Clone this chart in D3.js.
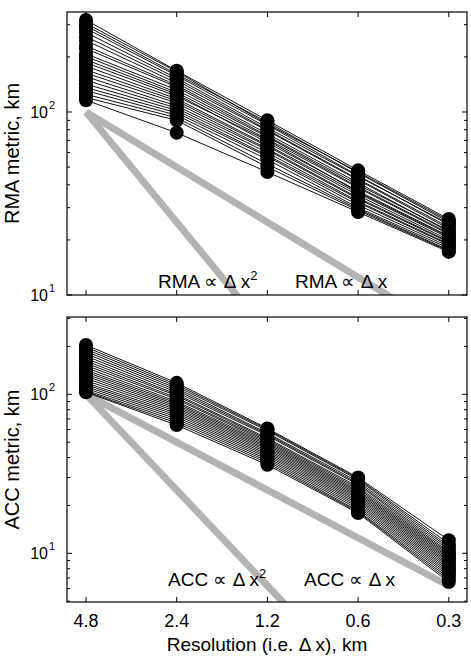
<!DOCTYPE html>
<html><head><meta charset="utf-8">
<script src="https://cdn.jsdelivr.net/npm/d3@7"></script>
<style>body{margin:0;background:#fff}svg{display:block}text{font-family:"Liberation Sans",Arial,sans-serif;fill:#000}</style>
</head><body><svg id="c" width="471" height="659"></svg>
<script>
const resolutions = [4.8, 2.4, 1.2, 0.6, 0.3];
const xTickLabels = ["4.8", "2.4", "1.2", "0.6", "0.3"];
const yTickValues = [10, 100];
// RMA metric (km) per run at each resolution
const rmaSeries = [
  [318,168,90,48,26],
  [305,166,86,47,25.5],
  [296,161,88,46.5,25],
  [286,158,85,45,24.2],
  [272,153,82,44.5,24.5],
  [258,149,80,43,23.5],
  [246,144,79,42.5,23],
  [230,140,76,41,22.2],
  [222,137,74,40,22.5],
  [208,132,73,39,21.8],
  [201,128,71,38.5,21.5],
  [193,125,68,37,21],
  [186,122,70,36.5,20.8],
  [178,118,66,36,20.5],
  [170,115,65,35,20],
  [163,112,63,34,19.6],
  [156,108,62,33.5,19.4],
  [149,105,60,32.5,19],
  [142,102,58,32,18.8],
  [136,99,57,31,18.4],
  [131,96,55,30,18],
  [125,93,52,29.5,17.6],
  [120,90,50,29,17.4],
  [116,77,47,28.4,17.2]
];
// ACC metric (km) per run at each resolution
const accSeries = [
  [204,118,61,30,12.1],
  [198,115,60,29.5,11.5],
  [192,112,59,29,11.1],
  [186,109,57,28.2,10.8],
  [180,106,56,27.5,10.5],
  [174,103,55,27,10.2],
  [168,100,53,26.2,10],
  [162,98,52,25.6,9.8],
  [157,95,51,25,9.6],
  [152,93,50,24.5,9.4],
  [147,90,49,24,9.2],
  [142,88,48,23.5,9],
  [138,86,47,23,8.8],
  [134,84,46,22.5,8.6],
  [130,82,45,22,8.4],
  [126,80,44,21.5,8.2],
  [122,78,43,21,8],
  [118,76,42,20.5,7.8],
  [115,74,41,20,7.6],
  [112,72,40,19.5,7.4],
  [109,70,39,19,7.2],
  [106,68,38,18.5,7],
  [104,66,37,18.2,6.8],
  [103,64,36,17.9,6.6]
];
// Reference slopes, anchored at 100 km for 4.8 km resolution
const guideRes = [4.8, 0.3];
const guideSquare = [100, 0.390625];
const guideLinear = [100, 6.25];

const svg = d3.select("#c");
const L = 67, R = 467;
const x = d3.scaleLog().domain([5.55, 0.261]).range([L, R]);

const panels = [
  {id:"top", series: rmaSeries, top:12, bottom:295, ydom:[10, 351.9], name:"RMA",
   ylabel:"RMA metric, km", labelY:288, sqX:158, linX:295},
  {id:"bot", series: accSeries, top:317, bottom:602, ydom:[4.94, 306.3], name:"ACC",
   ylabel:"ACC metric, km", labelY:586, sqX:168, linX:304}
];

panels.forEach(p => {
  const y = d3.scaleLog().domain(p.ydom).range([p.bottom, p.top]);
  const g = svg.append("g");
  g.append("clipPath").attr("id","clip-"+p.id).append("rect")
    .attr("x",L).attr("y",p.top).attr("width",R-L).attr("height",p.bottom-p.top);
  const line = d3.line().x(d=>x(d[0])).y(d=>y(d[1]));
  const gc = g.append("g").attr("clip-path","url(#clip-"+p.id+")");
  [guideSquare, guideLinear].forEach(gv => {
    gc.append("path").attr("d", line(guideRes.map((r,i)=>[r, gv[i]])))
      .attr("fill","none").attr("stroke","#b3b3b3").attr("stroke-width",7);
  });
  p.series.forEach(s => {
    gc.append("path").attr("d", line(resolutions.map((r,i)=>[r, s[i]])))
      .attr("fill","none").attr("stroke","#111").attr("stroke-width",1);
  });
  p.series.forEach(s => {
    gc.selectAll(null).data(resolutions.map((r,i)=>[r,s[i]])).enter().append("circle")
      .attr("cx",d=>x(d[0])).attr("cy",d=>y(d[1])).attr("r",7).attr("fill","#000");
  });
  // frame
  g.append("rect").attr("x",L).attr("y",p.top).attr("width",R-L).attr("height",p.bottom-p.top)
    .attr("fill","none").attr("stroke","#000").attr("stroke-width",1.2);
  // x ticks inside top and bottom
  resolutions.forEach(r => {
    g.append("line").attr("x1",x(r)).attr("x2",x(r)).attr("y1",p.bottom).attr("y2",p.bottom-5).attr("stroke","#000");
    g.append("line").attr("x1",x(r)).attr("x2",x(r)).attr("y1",p.top).attr("y2",p.top+5).attr("stroke","#000");
  });
  // y ticks: major and minor
  const minor = [];
  for (let e = 0; e <= 3; e++) for (let m = 1; m <= 9; m++) {
    const v = m*Math.pow(10,e);
    if (v >= p.ydom[0] && v <= p.ydom[1]) minor.push(v);
  }
  minor.forEach(v => {
    const len = yTickValues.includes(v) ? 5 : 3;
    g.append("line").attr("x1",L).attr("x2",L+len).attr("y1",y(v)).attr("y2",y(v)).attr("stroke","#000");
    g.append("line").attr("x1",R).attr("x2",R-len).attr("y1",y(v)).attr("y2",y(v)).attr("stroke","#000");
  });
  yTickValues.forEach(v => {
    g.append("text").attr("x",48).attr("y",y(v)+6).attr("text-anchor","end").attr("font-size",16).text("10");
    g.append("text").attr("x",49).attr("y",y(v)-3).attr("font-size",11).text(String(Math.round(Math.log10(v))));
  });
  // y label
  g.append("text").attr("transform",`translate(19,${(p.top+p.bottom)/2}) rotate(-90)`)
    .attr("text-anchor","middle").attr("font-size",20).text(p.ylabel);
  // annotations
  const a1 = g.append("text").attr("x",p.sqX).attr("y",p.labelY).attr("font-size",19);
  a1.append("tspan").text(p.name+" \u221D \u0394 x");
  a1.append("tspan").attr("dy",-8).attr("font-size",13).text("2");
  g.append("text").attr("x",p.linX).attr("y",p.labelY).attr("font-size",19).text(p.name+" \u221D \u0394 x");
});

// x tick labels (bottom panel)
resolutions.forEach((r,i) => {
  svg.append("text").attr("x",x(r)).attr("y",627).attr("text-anchor","middle").attr("font-size",18).text(xTickLabels[i]);
});
svg.append("text").attr("x",267).attr("y",651).attr("text-anchor","middle").attr("font-size",19).text("Resolution (i.e. \u0394 x), km");
</script></body></html>
